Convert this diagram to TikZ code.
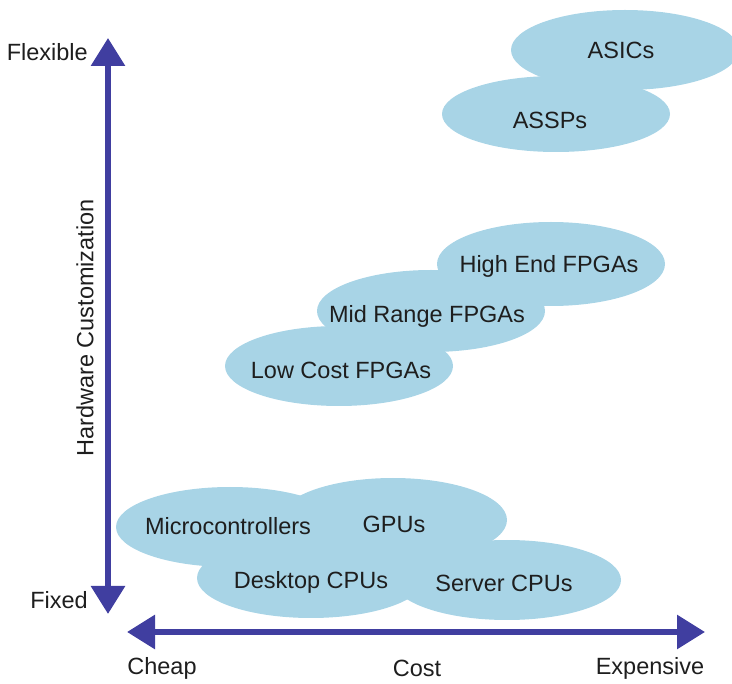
\documentclass[tikz,border=0pt]{standalone}
\usepackage{fontspec}
\setmainfont{Liberation Sans}
\usetikzlibrary{arrows.meta,shapes.geometric}
\definecolor{blob}{RGB}{168,212,230}
\definecolor{axis}{RGB}{64,62,160}
\definecolor{ink}{RGB}{30,30,30}
\tikzset{
  bubble/.style={ellipse, fill=blob, draw=none, inner sep=0pt, minimum width=228pt, minimum height=80pt},
  lbl/.style={text=ink, font=\fontsize{23.5}{28}\selectfont, inner sep=0pt},
  axisarrow/.style={draw=axis, line width=6pt, {Triangle[length=28pt,width=33pt]}-{Triangle[length=28pt,width=33pt]}}
}
\begin{document}
\begin{tikzpicture}[x=1pt,y=-1pt]
\useasboundingbox (0,0) rectangle (732,684);
\clip (0,0) rectangle (732,684);
% bubbles
\node[bubble] (asicsE) at (625,50) {};
\node[bubble, minimum height=76pt] (asspsE) at (556,114) {};
\node[bubble, minimum height=84pt] (highE) at (551,264) {};
\node[bubble, minimum height=82pt] (midE) at (431,311) {};
\node[bubble] (lowE) at (339,366) {};
\node[bubble] (microE) at (230,527) {};
\node[bubble, minimum height=84pt] (gpuE) at (393,520) {};
\node[bubble] (deskE) at (311,578) {};
\node[bubble] (servE) at (507,580) {};
% labels in bubbles
\node[lbl] (asics) at (621,50) {ASICs};
\node[lbl] (assps) at (550,120) {ASSPs};
\node[lbl] (high) at (549,266) {High End FPGAs};
\node[lbl] (mid) at (427,316) {Mid Range FPGAs};
\node[lbl] (low) at (341,370) {Low Cost FPGAs};
\node[lbl] (micro) at (228,526) {Microcontrollers};
\node[lbl] (gpu) at (394,524) {GPUs};
\node[lbl] (desk) at (311,582) {Desktop CPUs};
\node[lbl] (serv) at (504,583) {Server CPUs};
% axes
\coordinate (vtop) at (108,38);
\coordinate (vbot) at (108,614);
\coordinate (hleft) at (127,632);
\coordinate (hright) at (705,632);
\draw[axisarrow] (vbot) -- (vtop);
\draw[axisarrow] (hleft) -- (hright);
% axis labels
\node[lbl, anchor=east] (flex) at (88,52) {Flexible};
\node[lbl, anchor=east] (fixed) at (88,600) {Fixed};
\node[lbl, rotate=90] (hw) at (85,328) {Hardware Customization};
\node[lbl] (cheap) at (162,668) {Cheap};
\node[lbl] (cost) at (417,668) {Cost};
\node[lbl] (exp) at (650,668) {Expensive};
\end{tikzpicture}
\end{document}
